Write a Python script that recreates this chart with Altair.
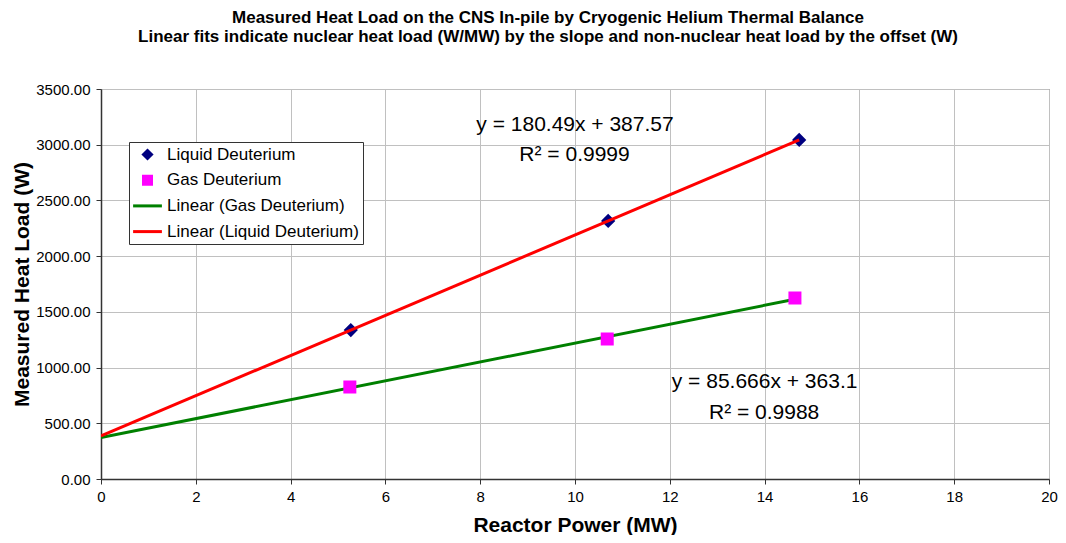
import altair as alt
import pandas as pd

# ---- data ----
power_liquid = [5.27, 10.70, 14.73]
load_liquid = [1337, 2316, 3043]
power_gas = [5.25, 10.68, 14.64]
load_gas = [826, 1257, 1625]

series_names = ["Liquid Deuterium", "Gas Deuterium",
                "Linear (Gas Deuterium)", "Linear (Liquid Deuterium)"]
series_colors = ["#000080", "#FF00FF", "#008000", "#FF0000"]
series_shapes = ["diamond", "square", "M-3.6,0L3.6,0", "M-3.6,0L3.6,0"]

eq_liquid = ["y = 180.49x + 387.57", "R² = 0.9999"]
eq_liquid_pos_x = [10.0, 9.99]
eq_liquid_pos_y = [3177, 2908]
eq_gas = ["y = 85.666x + 363.1", "R² = 0.9988"]
eq_gas_pos_x = [14.0, 13.99]
eq_gas_pos_y = [870, 592]

df = pd.DataFrame({
    "power": power_liquid + power_gas,
    "load": load_liquid + load_gas,
    "series": ["Liquid Deuterium"] * len(power_liquid) + ["Gas Deuterium"] * len(power_gas),
})
df_text = pd.DataFrame({
    "x": eq_liquid_pos_x + eq_gas_pos_x,
    "y": eq_liquid_pos_y + eq_gas_pos_y,
    "t": eq_liquid + eq_gas,
})

FONT = "Liberation Sans"

xscale = alt.Scale(domain=[0, 20], nice=False)
yscale = alt.Scale(domain=[0, 3500], nice=False)
xenc = alt.X("power:Q", scale=xscale,
             axis=alt.Axis(title="Reactor Power (MW)", values=list(range(0, 21, 2)),
                           format="d"))
yenc = alt.Y("load:Q", scale=yscale,
             axis=alt.Axis(title="Measured Heat Load (W)", values=list(range(0, 3501, 500)),
                           format=".2f"))

legend = alt.Legend(
    title=None, orient="none", legendX=28, legendY=53,
    fillColor="white", strokeColor="#333333", padding=4,
    labelFont=FONT, labelFontSize=17, labelColor="black",
    rowPadding=4.7, labelOffset=11, labelLimit=400, gridAlign="all",
    symbolSize=64, symbolOffset=6, symbolStrokeWidth=3, symbolOpacity=1,
)

base = alt.Chart(df)


def trend(name, extent_max, color):
    return (base.transform_filter(alt.datum.series == name)
            .transform_regression("power", "load", extent=[0, extent_max])
            .mark_line(strokeWidth=3, clip=True, color=color)
            .encode(x=xenc, y=yenc))


green = trend("Gas Deuterium", max(power_gas), series_colors[2])
red = trend("Liquid Deuterium", max(power_liquid), series_colors[3])

points = base.mark_point(filled=True, opacity=1, strokeWidth=3, size=100).encode(
    x=xenc, y=yenc,
    fill=alt.Fill("series:N", scale=alt.Scale(domain=series_names, range=series_colors),
                  legend=legend, title=None),
    stroke=alt.Stroke("series:N", scale=alt.Scale(domain=series_names, range=series_colors),
                      legend=legend, title=None),
    shape=alt.Shape("series:N", scale=alt.Scale(domain=series_names, range=series_shapes),
                    legend=legend, title=None),
)

texts = alt.Chart(df_text).mark_text(font=FONT, fontSize=21, color="black").encode(
    x=alt.X("x:Q", scale=xscale), y=alt.Y("y:Q", scale=yscale), text="t:N")

chart = alt.layer(green, points, red, texts).properties(
    width=948, height=390,
    autosize=alt.AutoSizeParams(type="none"),
    padding={"left": 93, "top": 81, "right": 9, "bottom": 56},
    title=alt.Title(
        ["Measured Heat Load on the CNS In-pile by Cryogenic Helium Thermal Balance",
         "Linear fits indicate nuclear heat load (W/MW) by the slope and non-nuclear heat load by the offset (W)"],
        font=FONT, fontSize=17, fontWeight="bold", color="black",
        anchor="middle", dx=-27, offset=36, lineHeight=19),
).configure_view(stroke="#666666", strokeWidth=1).configure_axis(
    labelFont=FONT, labelFontSize=15, labelColor="black",
    titleFont=FONT, titleFontSize=21, titleFontWeight="bold", titleColor="black",
    domainColor="#333333", domainWidth=1.5, tickColor="#333333", tickSize=5,
    gridColor="#c0c0c0", gridWidth=1, labelFlush=False,
).configure_axisX(labelPadding=5, titlePadding=10).configure_axisY(
    labelPadding=6, titlePadding=3)

chart.save("out.html", embed_options={"renderer": "svg", "actions": False})
